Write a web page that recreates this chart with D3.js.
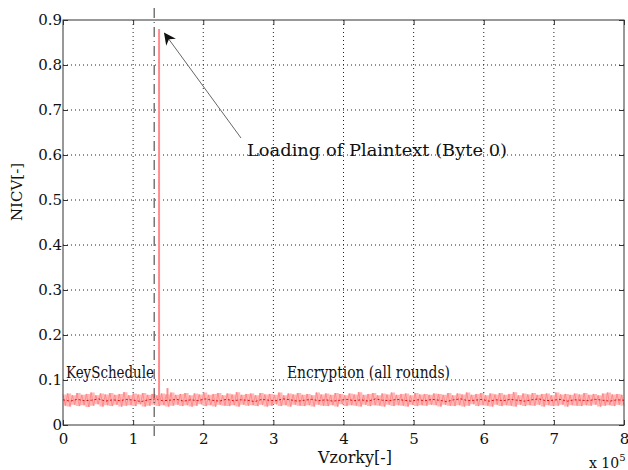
<!DOCTYPE html>
<html>
<head>
<meta charset="utf-8">
<script src="https://cdn.jsdelivr.net/npm/d3@7"></script>
<style>
  body { margin: 0; background: #fff; }
  text { font-family: "DejaVu Serif", "Liberation Serif", serif; fill: #111; }
</style>
</head>
<body>
<div id="chart"></div>
<script>
// axes
const xTicks = [0, 1e5, 2e5, 3e5, 4e5, 5e5, 6e5, 7e5, 8e5];
const yTicks = [0, 0.1, 0.2, 0.3, 0.4, 0.5, 0.6, 0.7, 0.8, 0.9];

// NICV trace, zig-zag samples across the whole record
const nicvBand = [
  0.068,0.043,0.070,0.041,0.066,0.045,0.071,0.042,0.067,0.044,0.069,0.040,0.072,0.043,0.066,0.046,0.070,0.041,0.068,0.044,
  0.071,0.042,0.067,0.045,0.069,0.041,0.073,0.043,0.066,0.044,0.070,0.042,0.068,0.046,0.071,0.041,0.067,0.043,0.069,0.045,
  0.066,0.042,0.070,0.044,0.068,0.041,0.072,0.043,0.067,0.045,0.069,0.042,0.071,0.044,0.066,0.041,0.070,0.043,0.068,0.046,
  0.072,0.042,0.067,0.044,0.069,0.041,0.071,0.045,0.066,0.043,0.070,0.042,0.068,0.044,0.073,0.041,0.067,0.045,0.069,0.043,
  0.070,0.044,0.066,0.042,0.071,0.045,0.068,0.041,0.069,0.043,0.067,0.046,0.072,0.042,0.066,0.044,0.070,0.041,0.068,0.045,
  0.071,0.043,0.067,0.042,0.069,0.044,0.066,0.041,0.072,0.045,0.068,0.043,0.070,0.042,0.067,0.044,0.071,0.041,0.069,0.046,
  0.066,0.042,0.070,0.044,0.068,0.043,0.073,0.041,0.067,0.045,0.069,0.042,0.071,0.044,0.066,0.043,0.070,0.041,0.068,0.045,
  0.072,0.042,0.067,0.044,0.069,0.043,0.070,0.041,0.066,0.045,0.071,0.042,0.068,0.044,0.069,0.043,0.067,0.045,0.070,0.044,
  0.069,0.041,0.067,0.045,0.071,0.043,0.066,0.042,0.070,0.044,0.068,0.041,0.072,0.043,0.067,0.046,0.069,0.042,0.071,0.044,
  0.066,0.043,0.070,0.041,0.068,0.045,0.071,0.042,0.067,0.044,0.069,0.043,0.073,0.041,0.066,0.045,0.070,0.042,0.068,0.044,
  0.071,0.043,0.067,0.045,0.069,0.041,0.070,0.044,0.066,0.042,0.072,0.043,0.068,0.045,0.069,0.041,0.067,0.044,0.070,0.043,
  0.068,0.042,0.071,0.044,0.067,0.043,0.069,0.045,0.066,0.041,0.070,0.043,0.072,0.044,0.068,0.042,0.069,0.045,0.067,0.043
];
// darker running value in the middle of the band
const nicvMean = [
  0.056,0.053,0.057,0.054,0.055,0.058,0.053,0.056,0.054,0.057,0.055,0.052,0.056,0.058,0.054,0.055,0.057,0.053,0.056,0.054,
  0.058,0.055,0.053,0.057,0.054,0.056,0.055,0.052,0.057,0.055,0.054,0.058,0.056,0.053,0.055,0.057,0.054,0.056,0.053,0.055,
  0.057,0.054,0.056,0.053,0.058,0.055,0.054,0.057,0.055,0.053,0.056,0.054,0.057,0.055,0.052,0.056,0.058,0.054,0.055,0.057,
  0.053,0.056,0.054,0.057,0.055,0.053,0.056,0.058,0.054,0.055,0.057,0.053,0.056,0.055,0.054,0.057,0.055,0.053,0.056,0.055
];
// isolated peaks [sample, NICV]
const peaks = [[1.37e5, 0.88], [1.49e5, 0.082]];
const keyScheduleEnd = 1.30e5;

const width = 628, height = 470;
const margin = { left: 63, right: 4, top: 20, bottom: 45 };

const x = d3.scaleLinear().domain([0, 8e5]).range([margin.left, width - margin.right]);
const y = d3.scaleLinear().domain([0, 0.9]).range([height - margin.bottom, margin.top]);

const svg = d3.select("#chart").append("svg")
  .attr("width", width).attr("height", height);

// grid
const grid = svg.append("g").attr("stroke", "#222").attr("stroke-width", 1)
  .attr("stroke-dasharray", "1,3");
grid.selectAll(".gx").data(xTicks.slice(1, -1)).join("line")
  .attr("x1", d => x(d)).attr("x2", d => x(d))
  .attr("y1", y(0)).attr("y2", y(0.9));
grid.selectAll(".gy").data(yTicks.slice(1, -1)).join("line")
  .attr("x1", x(0)).attr("x2", x(8e5))
  .attr("y1", d => y(d)).attr("y2", d => y(d));

// band
const step = 8e5 / (nicvBand.length - 1);
const bandPts = nicvBand.map((v, i) => [i * step, v]);
const pairs = d3.range(0, nicvBand.length - 1, 2).map(i => ({
  s: (i + 0.5) * step, hi: nicvBand[i], lo: nicvBand[i + 1]
}));
svg.append("path")
  .datum(pairs)
  .attr("fill", "#ffb8b8")
  .attr("d", d3.area().x(d => x(d.s)).y0(d => y(d.lo)).y1(d => y(d.hi)).curve(d3.curveStep));
svg.append("path")
  .datum(bandPts)
  .attr("fill", "none").attr("stroke", "#ff8080").attr("stroke-width", 0.8)
  .attr("d", d3.line().x(d => x(d[0])).y(d => y(d[1])));
const mstep = 8e5 / (nicvMean.length - 1);
svg.append("path")
  .datum(nicvMean.map((v, i) => [i * mstep, v]))
  .attr("fill", "none").attr("stroke", "#e01010").attr("stroke-width", 1)
  .attr("stroke-dasharray", "2,2")
  .attr("d", d3.line().x(d => x(d[0])).y(d => y(d[1])));

// peaks
svg.selectAll(".peak").data(peaks).join("line")
  .attr("x1", d => x(d[0])).attr("x2", d => x(d[0]))
  .attr("y1", y(0.056)).attr("y2", d => y(d[1]))
  .attr("stroke", "#ff8c8c").attr("stroke-width", 2);

// key schedule boundary
svg.append("line")
  .attr("x1", x(keyScheduleEnd)).attr("x2", x(keyScheduleEnd))
  .attr("y1", 8).attr("y2", y(0) + 12)
  .attr("stroke", "#333").attr("stroke-width", 1)
  .attr("stroke-dasharray", "10,4,1,4");

// frame
svg.append("rect")
  .attr("x", x(0)).attr("y", y(0.9))
  .attr("width", x(8e5) - x(0)).attr("height", y(0) - y(0.9))
  .attr("fill", "none").attr("stroke", "#333").attr("stroke-width", 1);

// axes with inward ticks
const fontSize = 15;
svg.append("g").attr("transform", `translate(0,${y(0)})`)
  .call(d3.axisBottom(x).tickValues(xTicks).tickSize(-5).tickPadding(8).tickFormat(d => d / 1e5))
  .call(g => g.select(".domain").remove())
  .call(g => g.selectAll("text").attr("font-size", fontSize).attr("font-family", "DejaVu Serif").attr("fill", "#111"));
svg.append("g").attr("transform", `translate(0,${y(0.9)})`)
  .call(d3.axisTop(x).tickValues(xTicks).tickSize(-5).tickFormat(""))
  .call(g => g.select(".domain").remove());
svg.append("g").attr("transform", `translate(${x(0)},0)`)
  .call(d3.axisLeft(y).tickValues(yTicks).tickSize(-5).tickPadding(1).tickFormat(d => d === 0 ? "0" : d3.format(".1f")(d)))
  .call(g => g.select(".domain").remove())
  .call(g => g.selectAll("text").attr("font-size", fontSize).attr("font-family", "DejaVu Serif").attr("fill", "#111"));
svg.append("g").attr("transform", `translate(${x(8e5)},0)`)
  .call(d3.axisRight(y).tickValues(yTicks).tickSize(-5).tickFormat(""))
  .call(g => g.select(".domain").remove());
svg.selectAll(".tick line").attr("stroke", "#333");

// labels
svg.append("text").attr("x", 355).attr("y", 463).attr("text-anchor", "middle")
  .attr("font-size", 16).text("Vzorky[-]");
const exp = svg.append("text").attr("x", 589).attr("y", 468).attr("font-size", 14);
exp.append("tspan").text("x 10");
exp.append("tspan").attr("dy", -7).attr("font-size", 10).text("5");
svg.append("text").attr("transform", "translate(22,192) rotate(-90)")
  .attr("text-anchor", "middle").attr("font-size", 15).text("NICV[-]");

svg.append("text").attr("x", 66).attr("y", 378).attr("font-size", 16)
  .attr("textLength", 88).attr("lengthAdjust", "spacingAndGlyphs").text("KeySchedule");
svg.append("text").attr("x", 287).attr("y", 378).attr("font-size", 16)
  .attr("textLength", 163).attr("lengthAdjust", "spacingAndGlyphs").text("Encryption (all rounds)");

// annotation arrow
svg.append("defs").append("marker")
  .attr("id", "head").attr("viewBox", "0 0 10 10").attr("refX", 9).attr("refY", 5)
  .attr("markerWidth", 12).attr("markerHeight", 12).attr("markerUnits", "userSpaceOnUse")
  .attr("orient", "auto")
  .append("path").attr("d", "M0,0 L10,5 L0,10 L3,5 Z").attr("fill", "#111");
svg.append("line")
  .attr("x1", 241).attr("y1", 138).attr("x2", x(1.45e5)).attr("y2", y(0.87))
  .attr("stroke", "#666").attr("stroke-width", 1).attr("marker-end", "url(#head)");
svg.append("text").attr("x", 247).attr("y", 156).attr("font-size", 17)
  .attr("textLength", 260).attr("lengthAdjust", "spacingAndGlyphs").text("Loading of Plaintext (Byte 0)");
</script>
</body>
</html>
